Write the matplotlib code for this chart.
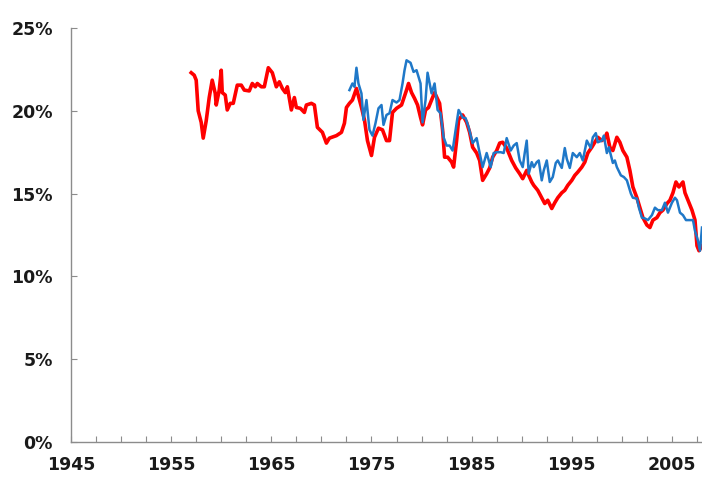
import matplotlib.pyplot as plt
from matplotlib.ticker import FuncFormatter, MultipleLocator

# red series (year, percent)
red_years = [1957.0, 1957.3, 1957.5, 1957.7, 1958.0, 1958.2, 1958.5, 1958.8, 1959.1, 1959.4,
             1959.5, 1959.8, 1960.0, 1960.1, 1960.4, 1960.6, 1960.9, 1961.2, 1961.6, 1962.0,
             1962.3, 1962.8, 1963.1, 1963.4, 1963.6, 1964.0, 1964.3, 1964.7, 1965.1, 1965.5,
             1965.8, 1966.1, 1966.4, 1966.6, 1967.0, 1967.3, 1967.5, 1967.9, 1968.3, 1968.5,
             1969.0, 1969.3, 1969.6, 1970.1, 1970.5, 1970.8, 1971.5, 1972.0, 1972.3, 1972.5,
             1972.8, 1973.1, 1973.5, 1974.0, 1974.3, 1974.6, 1975.0, 1975.3, 1975.7, 1976.1,
             1976.5, 1976.8, 1977.1, 1977.5, 1978.0, 1978.5, 1978.7, 1979.0, 1979.3, 1979.6,
             1979.9, 1980.1, 1980.4, 1980.7, 1981.1, 1981.3, 1981.8, 1982.1, 1982.3, 1982.6,
             1983.0, 1983.2, 1983.5, 1983.7, 1984.1, 1984.5, 1984.8, 1985.1, 1985.5, 1985.8,
             1986.1, 1986.5, 1986.8, 1987.1, 1987.5, 1987.8, 1988.1, 1988.5, 1989.0, 1989.4,
             1989.8, 1990.1, 1990.5, 1990.7, 1991.0, 1991.2, 1991.6, 1992.0, 1992.3, 1992.6,
             1993.0, 1993.3, 1993.6, 1994.0, 1994.3, 1994.6, 1995.0, 1995.3, 1995.6, 1996.0,
             1996.3, 1996.6, 1997.0, 1997.3, 1997.6, 1998.0, 1998.3, 1998.5, 1998.8, 1999.1,
             1999.5, 1999.8, 2000.1, 2000.5, 2000.8, 2001.1, 2001.5, 2001.8, 2002.1, 2002.5,
             2002.8, 2003.1, 2003.5, 2003.8, 2004.1, 2004.5, 2004.8, 2005.1, 2005.4, 2005.7,
             2006.1, 2006.3, 2006.6, 2007.0, 2007.3, 2007.5, 2007.7, 2008.0]
red_vals = [22.3, 22.15, 21.85, 20.0, 19.3, 18.35, 19.4, 20.8, 21.85, 21.05,
            20.35, 21.25, 22.45, 21.1, 20.95, 20.05, 20.45, 20.45, 21.55, 21.55,
            21.25, 21.2, 21.65, 21.45, 21.65, 21.45, 21.45, 22.6, 22.3, 21.45,
            21.75, 21.35, 21.1, 21.45, 20.05, 20.8, 20.2, 20.15, 19.9, 20.35,
            20.45, 20.35, 19.0, 18.7, 18.05, 18.35, 18.5, 18.7, 19.25, 20.2,
            20.45, 20.65, 21.35, 20.2, 19.45, 18.2, 17.3, 18.4, 18.95, 18.85,
            18.2, 18.2, 19.9, 20.15, 20.35, 21.25, 21.65, 21.1, 20.75, 20.35,
            19.6, 19.15, 20.05, 20.2, 20.8, 21.1, 20.45, 18.85, 17.2, 17.2,
            16.9, 16.6, 18.2, 19.45, 19.75, 19.3, 18.7, 17.8, 17.45, 17.0,
            15.8, 16.2, 16.55, 17.2, 17.6, 18.05, 18.1, 17.75, 17.0, 16.55,
            16.2, 15.9, 16.4, 16.1, 15.7, 15.5, 15.2, 14.75, 14.4, 14.6,
            14.1, 14.45, 14.75, 15.05, 15.2, 15.5, 15.8, 16.1, 16.3, 16.6,
            16.9, 17.45, 17.8, 18.1, 18.4, 18.2, 18.35, 18.65, 17.8, 17.6,
            18.4, 18.1, 17.6, 17.2, 16.4, 15.4, 14.75, 14.15, 13.55, 13.1,
            12.95, 13.4, 13.55, 13.85, 14.0, 14.4, 14.6, 15.05, 15.7, 15.4,
            15.7, 15.05, 14.6, 14.0, 13.4, 11.85, 11.55, 11.85]

# blue series (year, percent)
blue_years = [1972.8, 1973.1, 1973.3, 1973.5, 1973.7, 1974.0, 1974.2, 1974.5, 1974.8, 1975.1,
              1975.4, 1975.7, 1976.0, 1976.2, 1976.5, 1976.8, 1977.1, 1977.5, 1977.8, 1978.1,
              1978.3, 1978.5, 1978.9, 1979.2, 1979.5, 1979.9, 1980.1, 1980.4, 1980.6, 1981.0,
              1981.3, 1981.6, 1981.9, 1982.2, 1982.5, 1982.8, 1983.1, 1983.5, 1983.7, 1984.1,
              1984.4, 1984.7, 1985.1, 1985.5, 1985.8, 1986.1, 1986.5, 1986.9, 1987.2, 1987.5,
              1987.9, 1988.2, 1988.5, 1988.9, 1989.2, 1989.5, 1989.8, 1990.1, 1990.3, 1990.5,
              1990.7, 1991.0, 1991.2, 1991.5, 1991.7, 1992.0, 1992.2, 1992.5, 1992.8, 1993.1,
              1993.4, 1993.6, 1994.0, 1994.3, 1994.5, 1994.8, 1995.1, 1995.5, 1995.8, 1996.1,
              1996.5, 1996.9, 1997.1, 1997.4, 1997.6, 1998.0, 1998.2, 1998.5, 1998.7, 1999.1,
              1999.3, 1999.5, 1999.9, 2000.2, 2000.5, 2000.9, 2001.1, 2001.5, 2001.7, 2002.0,
              2002.3, 2002.6, 2003.0, 2003.3, 2003.6, 2004.0, 2004.3, 2004.6, 2005.0, 2005.3,
              2005.5, 2005.8, 2006.1, 2006.4, 2006.7, 2007.1, 2007.3, 2007.6, 2007.8, 2008.0]
blue_vals = [21.25, 21.65, 21.45, 22.6, 21.65, 21.05, 19.45, 20.65, 18.85, 18.5,
             19.25, 20.15, 20.35, 19.15, 19.75, 19.85, 20.65, 20.5, 20.65, 21.65,
             22.45, 23.05, 22.9, 22.35, 22.45, 21.65, 19.3, 20.65, 22.3, 21.05,
             21.65, 20.05, 19.85, 18.4, 17.9, 17.9, 17.6, 19.25, 20.05, 19.6,
             19.55, 19.0, 18.05, 18.35, 17.45, 16.6, 17.45, 16.6, 17.45, 17.5,
             17.5, 17.45, 18.35, 17.6, 17.9, 18.05, 17.0, 16.6, 17.45, 18.2,
             16.2, 16.9, 16.6, 16.9, 17.0, 15.8, 16.4, 17.0, 15.7, 16.0,
             16.85, 17.0, 16.55, 17.75, 17.1, 16.55, 17.45, 17.2, 17.45, 17.0,
             18.2, 17.75, 18.4, 18.65, 18.1, 18.2, 18.5, 17.45, 17.8, 16.85,
             17.0, 16.6, 16.1, 16.0, 15.8, 15.0, 14.75, 14.7, 14.15, 13.55,
             13.5, 13.4, 13.7, 14.15, 14.0, 14.0, 14.45, 13.85, 14.45, 14.75,
             14.6, 13.85, 13.7, 13.4, 13.4, 13.4, 12.75, 12.15, 11.55, 12.95]

x_labels = [1945, 1955, 1965, 1975, 1985, 1995, 2005]
y_ticks = [0, 5, 10, 15, 20, 25]

plt.rcParams['font.family'] = ['DejaVu Sans']

fig = plt.figure(figsize=(7.02, 4.79), dpi=100)
ax = fig.add_axes([71 / 702, 37 / 479, 1 - 71 / 702, 414 / 479])

ax.plot(red_years, red_vals, color='#ff0000', lw=2.6, solid_joinstyle='round')
ax.plot(blue_years, blue_vals, color='#1f78c8', lw=1.8, solid_joinstyle='round')

ax.set_xlim(1945, 2008.0)
ax.set_ylim(0, 25)
ax.set_xticks(x_labels)
ax.xaxis.set_minor_locator(MultipleLocator(2.5))
ax.set_yticks(y_ticks)
ax.yaxis.set_major_formatter(FuncFormatter(lambda v, p: '%d%%' % v))

for s in ['top', 'right']:
    ax.spines[s].set_visible(False)
for s in ['left', 'bottom']:
    ax.spines[s].set_color('#8c8c8c')
    ax.spines[s].set_linewidth(1.0)

ax.tick_params(axis='both', which='both', direction='in', color='#8c8c8c', length=4, width=0.8)
ax.tick_params(axis='y', pad=13)
ax.tick_params(axis='x', pad=10)
for lab in ax.get_xticklabels() + ax.get_yticklabels():
    lab.set_fontsize(12.5)
    lab.set_fontweight('bold')
    lab.set_color('#1a1a1a')

fig.savefig('out.png', dpi=100)
